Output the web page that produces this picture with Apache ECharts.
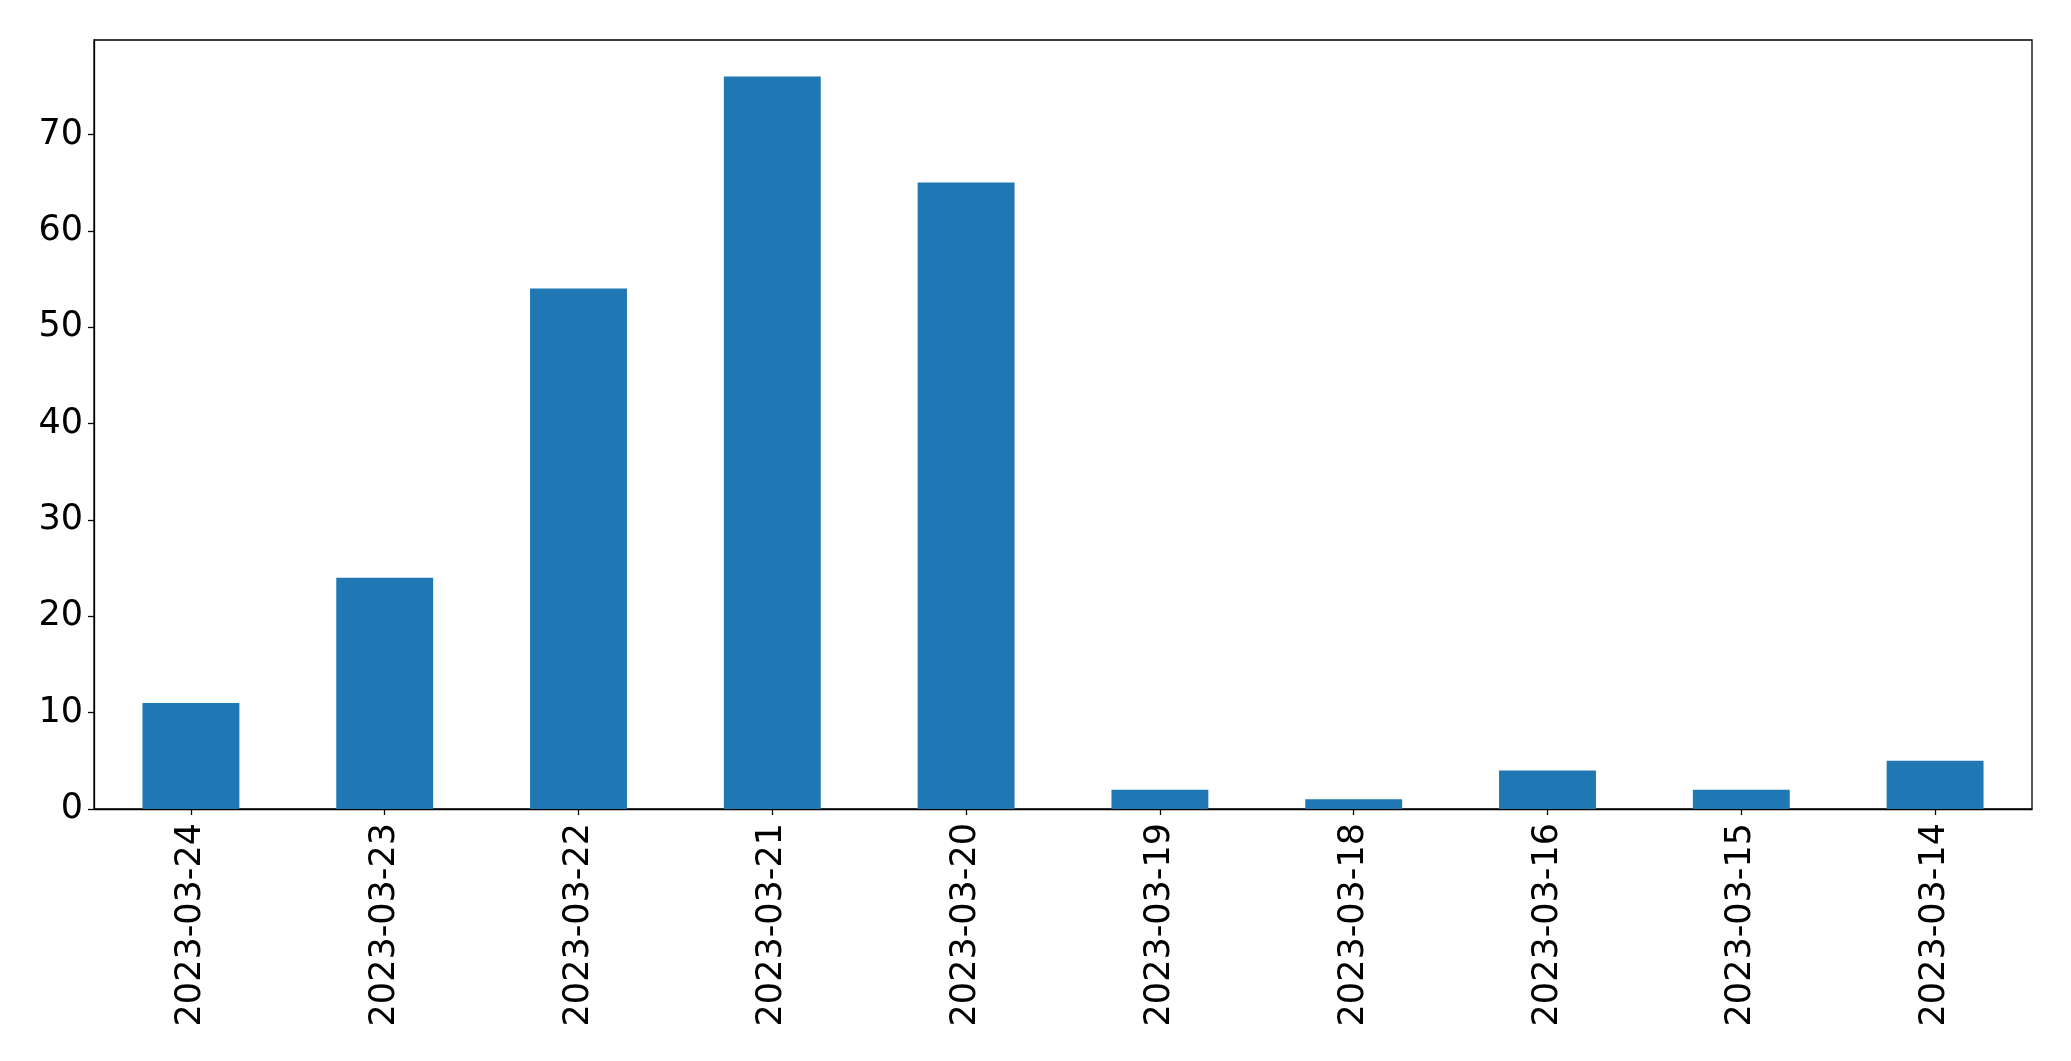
<!DOCTYPE html>
<html>
<head>
<meta charset="utf-8">
<script src="https://cdn.jsdelivr.net/npm/echarts@6/dist/echarts.min.js"></script>
<style>html,body{margin:0;padding:0;background:#fff;}#c{width:2071px;height:1061px;}</style>
</head>
<body>
<div id="c"></div>
<script>
const categories = ['2023-03-24','2023-03-23','2023-03-22','2023-03-21','2023-03-20','2023-03-19','2023-03-18','2023-03-16','2023-03-15','2023-03-14'];
const values = [11, 24, 54, 76, 65, 2, 1, 4, 2, 5];
const yTicks = [0, 10, 20, 30, 40, 50, 60, 70];

const chart = echarts.init(document.getElementById('c'), null, {renderer: 'canvas'});
chart.setOption({
  animation: false,
  backgroundColor: '#fff',
  textStyle: {fontFamily: 'DejaVu Sans'},
  grid: {left: 94, top: 40, right: 39, bottom: 252, containLabel: false, show: true, borderColor: '#000', borderWidth: 1.3, backgroundColor: 'transparent'},
  xAxis: {
    type: 'category',
    data: categories,
    axisLine: {show: true, lineStyle: {color: '#000', width: 1.3}},
    axisTick: {show: true, alignWithLabel: true, length: 6, lineStyle: {color: '#000', width: 1.3}},
    axisLabel: {rotate: 90, fontSize: 35, color: '#000', fontFamily: 'DejaVu Sans', margin: 14, interval: 0},
    splitLine: {show: false}
  },
  yAxis: {
    type: 'value',
    min: 0,
    max: 79.8,
    interval: 10,
    axisLine: {show: true, lineStyle: {color: '#000', width: 1.3}},
    axisTick: {show: true, length: 6, lineStyle: {color: '#000', width: 1.3}, customValues: yTicks},
    axisLabel: {fontSize: 35, color: '#000', fontFamily: 'DejaVu Sans', margin: 11, customValues: yTicks},
    splitLine: {show: false}
  },
  series: [{
    type: 'bar',
    data: values,
    barWidth: '50%',
    itemStyle: {color: '#1f77b4'}
  }]
});
</script>
</body>
</html>
